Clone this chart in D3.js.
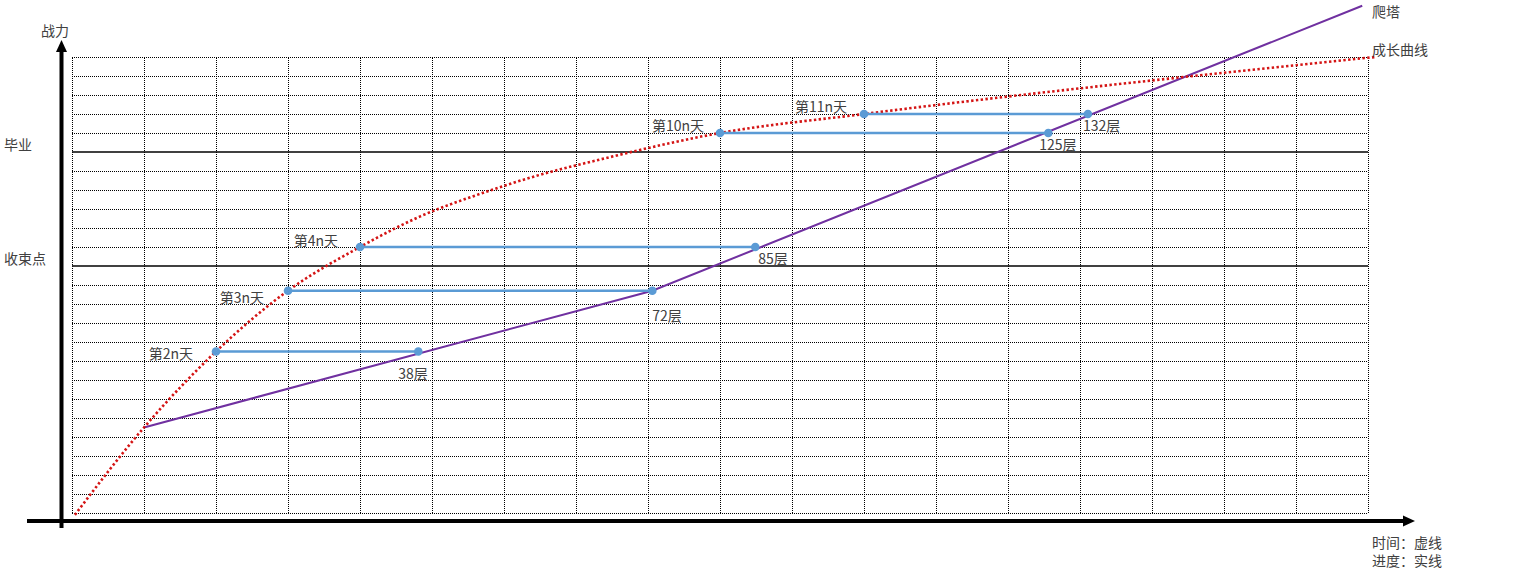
<!DOCTYPE html>
<html>
<head>
<meta charset="utf-8">
<script src="https://cdn.jsdelivr.net/npm/d3@7"></script>
<style>
  html, body { margin: 0; padding: 0; background: #fff; }
  svg { display: block; }
  text { font-family: "Noto Sans CJK SC", "Noto Sans", sans-serif; fill: #404040; font-size: 14px; }
</style>
</head>
<body>
<svg id="chart" width="1513" height="571"></svg>
<script>
// ---------- data ----------
// x: time (grid columns 0..18), y: power (grid rows 0..24)
const gridCols = 18;
const gridRows = 24;
const solidRows = [13, 19];              // rows drawn as solid lines
const yMarkLabels = ["收束点", "毕业"];     // labels of the solid rows
const growthX = [0.04, 1.0, 2.0, 3.0, 4.0, 4.83, 5.67, 6.5, 7.33, 9.0, 11.0, 18.1];
const growthY = [-0.1, 4.5, 8.5, 11.7, 14.0, 15.6, 16.8, 17.8, 18.6, 20.0, 21.0, 24.0];
const towerX = [1.0, 8.06, 17.92];
const towerY = [4.5, 11.7, 26.7];
const dayLabels = ["第2n天", "第3n天", "第4n天", "第10n天", "第11n天"];
const dayX = [2.0, 3.0, 4.0, 9.0, 11.0];
const dayY = [8.5, 11.7, 14.0, 20.0, 21.0];
const floorLabels = ["38层", "72层", "85层", "125层", "132层"];
const floorX = [4.81, 8.06, 9.49, 13.56, 14.11];
const seriesNames = ["爬塔", "成长曲线"];
const axisTitles = ["战力", "时间：虚线", "进度：实线"];

// ---------- layout ----------
const svg = d3.select("#chart");
const x = d3.scaleLinear().domain([0, gridCols]).range([72, 1368]);
const y = d3.scaleLinear().domain([0, gridRows]).range([513, 57]);

// grid (dotted)
const grid = svg.append("g");
grid.selectAll("line.v").data(d3.range(0, gridCols + 1)).join("line")
  .attr("x1", d => x(d)).attr("x2", d => x(d))
  .attr("y1", y(0)).attr("y2", y(gridRows))
  .attr("stroke", "#000").attr("stroke-width", 1).attr("stroke-dasharray", "1,1")
  .attr("shape-rendering", "crispEdges");
grid.selectAll("line.h").data(d3.range(0, gridRows + 1).filter(r => !solidRows.includes(r))).join("line")
  .attr("x1", x(0)).attr("x2", x(gridCols))
  .attr("y1", d => y(d)).attr("y2", d => y(d))
  .attr("stroke", "#000").attr("stroke-width", 1).attr("stroke-dasharray", "1,1")
  .attr("shape-rendering", "crispEdges");
grid.selectAll("line.s").data(solidRows).join("line")
  .attr("x1", x(0)).attr("x2", x(gridCols))
  .attr("y1", d => y(d)).attr("y2", d => y(d))
  .attr("stroke", "#000").attr("stroke-width", 1.3);

// solid-row labels
svg.selectAll("text.mark").data(solidRows).join("text")
  .attr("x", 4).attr("y", d => y(d) - 8)
  .attr("dominant-baseline", "central")
  .text((d, i) => yMarkLabels[i]);

// axes
const axX0 = 61.5, axY0 = 521;
svg.append("line").attr("x1", axX0).attr("x2", axX0).attr("y1", 528).attr("y2", 50)
  .attr("stroke", "#000").attr("stroke-width", 4);
svg.append("path").attr("d", `M${axX0},40 L${axX0 - 5.5},52 L${axX0 + 5.5},52 Z`).attr("fill", "#000");
svg.append("line").attr("x1", 27).attr("x2", 1404).attr("y1", axY0).attr("y2", axY0)
  .attr("stroke", "#000").attr("stroke-width", 4);
svg.append("path").attr("d", `M1415,${axY0} L1403,${axY0 - 5.5} L1403,${axY0 + 5.5} Z`).attr("fill", "#000");

// tower (purple)
const line = d3.line().x(d => x(d[0])).y(d => y(d[1]));
svg.append("path").datum(d3.zip(towerX, towerY))
  .attr("d", line).attr("fill", "none")
  .attr("stroke", "#7030A0").attr("stroke-width", 2);

// growth curve (red dotted)
const curve = d3.line().x(d => x(d[0])).y(d => y(d[1])).curve(d3.curveMonotoneX);
svg.append("path").datum(d3.zip(growthX, growthY))
  .attr("d", curve).attr("fill", "none")
  .attr("stroke", "#D41414").attr("stroke-width", 2.6).attr("stroke-dasharray", "2.4,2.4");

// connectors
const conn = svg.append("g");
dayLabels.forEach((lab, i) => {
  conn.append("line")
    .attr("x1", x(dayX[i])).attr("x2", x(floorX[i]))
    .attr("y1", y(dayY[i])).attr("y2", y(dayY[i]))
    .attr("stroke", "#5B9BD5").attr("stroke-width", 2.4);
  [dayX[i], floorX[i]].forEach(px => {
    conn.append("circle").attr("cx", x(px)).attr("cy", y(dayY[i])).attr("r", 4.3)
      .attr("fill", "#5B9BD5");
  });
});

// day labels (offsets relative to curve point)
const dayOff = [[-23, 1], [-24, 6], [-22, -7], [-16, -8], [-17, -8]];
svg.selectAll("text.day").data(dayLabels).join("text")
  .attr("x", (d, i) => x(dayX[i]) + dayOff[i][0])
  .attr("y", (d, i) => y(dayY[i]) + dayOff[i][1])
  .attr("text-anchor", "end").attr("dominant-baseline", "central")
  .text(d => d);

const floorOff = [[-20, 21], [0, 24], [3, 11], [-9, 11], [-5, 11]];
svg.selectAll("text.floor").data(floorLabels).join("text")
  .attr("x", (d, i) => x(floorX[i]) + floorOff[i][0])
  .attr("y", (d, i) => y(dayY[i]) + floorOff[i][1])
  .attr("dominant-baseline", "central")
  .text(d => d);

// series names
svg.append("text").attr("x", 1372).attr("y", 11).attr("dominant-baseline", "central").text(seriesNames[0]);
svg.append("text").attr("x", 1372).attr("y", 49).attr("dominant-baseline", "central").text(seriesNames[1]);

// axis titles
svg.append("text").attr("x", 41).attr("y", 30).attr("dominant-baseline", "central").text(axisTitles[0]);
svg.append("text").attr("x", 1372).attr("y", 542).attr("dominant-baseline", "central").text(axisTitles[1]);
svg.append("text").attr("x", 1372).attr("y", 560).attr("dominant-baseline", "central").text(axisTitles[2]);
</script>
</body>
</html>
